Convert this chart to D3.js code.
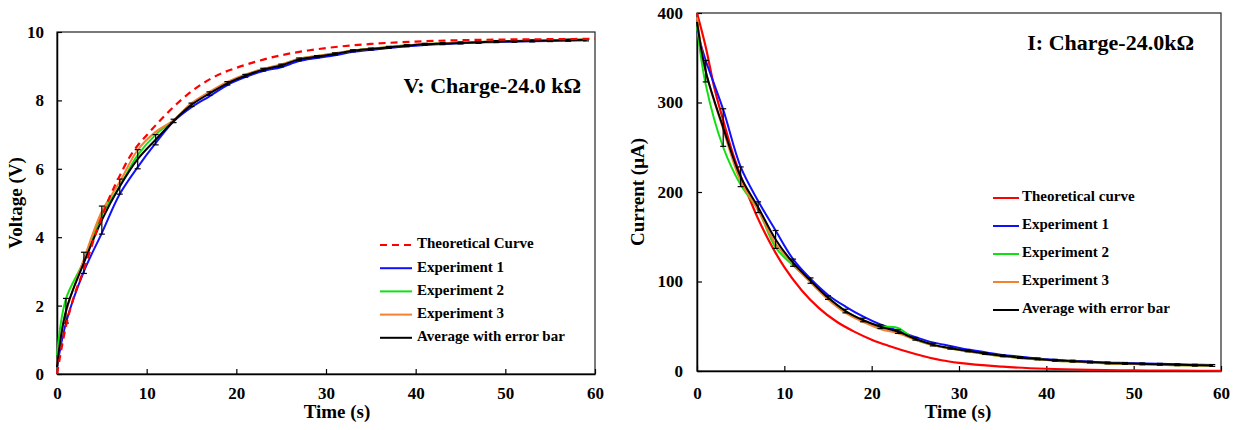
<!DOCTYPE html>
<html>
<head>
<meta charset="UTF-8">
<title>RC charge - 24.0 kOhm</title>
<script src="https://cdn.jsdelivr.net/npm/d3@7/dist/d3.min.js"></script>
<style>
  body { margin: 0; background: #fff; }
</style>
</head>
<body>
<svg id="chart" width="1242" height="430"></svg>
<script>
// sample times of the measurements (s)
const tExp = [0,1,3,5,7,9,11,13,15,17,19,21,23,25,27,29,31,33,35,37,39,41,43,45,47,49,51,53,55,57,59];
// times for the theoretical curves (s)
const tTheo = [0,1,2,3,4,5,6,7,8,9,10,12,14,16,18,20,22,25,28,30,35,40,45,50,55,60];

// ---- voltage panel (V)
const vTheo = [0,1.4,2.35,3.05,3.85,4.6,5.25,5.8,6.3,6.68,6.98,7.55,8.05,8.45,8.75,8.95,9.12,9.32,9.46,9.53,9.65,9.72,9.76,9.78,9.79,9.8];
const vExp1 = [0.2,1.5,3.0,4.12,5.26,6.05,6.75,7.38,7.8,8.12,8.45,8.68,8.86,8.97,9.15,9.24,9.32,9.42,9.48,9.53,9.58,9.62,9.65,9.67,9.69,9.71,9.72,9.73,9.74,9.75,9.76];
const vExp2 = [0.55,2.2,3.3,4.65,5.5,6.4,7.0,7.42,7.9,8.22,8.52,8.74,8.92,9.04,9.22,9.3,9.37,9.46,9.51,9.56,9.61,9.65,9.67,9.69,9.71,9.73,9.74,9.75,9.76,9.77,9.78];
const vExp3 = [0.25,1.8,3.36,4.75,5.62,6.55,7.08,7.42,7.92,8.25,8.54,8.76,8.92,9.05,9.22,9.3,9.38,9.46,9.51,9.56,9.61,9.65,9.67,9.69,9.71,9.73,9.74,9.75,9.76,9.77,9.78];
const vAvg  = [0.2,1.85,3.25,4.5,5.48,6.28,6.85,7.4,7.87,8.2,8.5,8.72,8.9,9.02,9.2,9.28,9.36,9.45,9.5,9.55,9.6,9.64,9.66,9.68,9.7,9.72,9.73,9.74,9.75,9.76,9.77];
const vErr  = [0,0.36,0.31,0.41,0.22,0.28,0.15,0.05,0.05,0.05,0.05,0.04,0.04,0.04,0.04,0.03,0.03,0.03,0.03,0.03,0.03,0.03,0.03,0.03,0.03,0.03,0.03,0.03,0.03,0.03,0.03];

// ---- current panel (uA)
const iTheo = [400,362,316,280,246,218,193,170,150,132,116,90,70,55,44,35,28,19,12,9,4.8,2.5,1.3,0.7,0.4,0.2];
const iExp1 = [380,347,292,228,190,157,125,103,85,72,61,52,45,38,32,28,24,21,18,16,14,12.5,11.5,10.5,9.5,9,8.5,8,7.5,7,6.8];
const iExp2 = [385,320,250,208,180,138,118,100,82,67,56,50,48,35,29,25,22,19,16.5,14.5,13,11.5,10.5,9.5,8.5,8,7.5,7,6.5,6.2,6];
const iExp3 = [395,335,270,212,180,142,120,99,80,65,55,47,42,35,29,25,22,19,16.5,14.5,13,11.5,10.5,9.5,8.5,8,7.5,7,6.5,6.2,6];
const iAvg  = [390,335,272,217,183,147,121,101,82,67,57,49.5,44,36,29.5,25.5,22.5,19.5,17,15,13.5,12,11,10,9,8.5,8,7.5,7,6.5,6.2];
const iErr  = [0,12,21,11,6,10,4,3,2,2,2,2,2,1.5,1.5,1,1,1,1,1,1,1,1,1,1,1,1,1,1,1,1];

const xTicks = [0,10,20,30,40,50,60];
const vTicks = [0,2,4,6,8,10];
const iTicks = [0,100,200,300,400];

const colors = { theo: "#ff0000", e1: "#1010ff", e2: "#10e010", e3: "#f08232", avg: "#000000" };
const FONT = "'Liberation Serif', 'DejaVu Serif', 'Times New Roman', serif";

const svg = d3.select("#chart");

function label(sel, size) {
  return sel.attr("font-family", FONT).attr("font-weight", "bold")
    .attr("font-size", size).attr("fill", "#000")
    .style("font-family", FONT).style("font-weight", "bold").style("font-size", size + "px");
}

function panel(opt) {
  const x = d3.scaleLinear().domain([0, 60]).range(opt.xr);
  const y = d3.scaleLinear().domain(opt.yd).range(opt.yr);
  const g = svg.append("g");

  // frame (top / right)
  g.append("rect")
    .attr("x", opt.xr[0]).attr("y", opt.yr[1])
    .attr("width", opt.xr[1] - opt.xr[0]).attr("height", opt.yr[0] - opt.yr[1])
    .attr("fill", "none").attr("stroke", "#222").attr("stroke-width", 1.2);

  const xa = g.append("g").attr("transform", `translate(0,${opt.yr[0]})`)
    .call(d3.axisBottom(x).tickValues(xTicks).tickSizeInner(-5).tickSizeOuter(0).tickPadding(opt.xpad));
  const ya = g.append("g").attr("transform", `translate(${opt.xr[0]},0)`)
    .call(d3.axisLeft(y).tickValues(opt.yticks).tickSizeInner(-5).tickSizeOuter(0).tickPadding(opt.ypad));
  [xa, ya].forEach(a => {
    a.attr("font-family", FONT);
    a.select(".domain").attr("stroke", "#000").attr("stroke-width", 1.5);
    a.selectAll(".tick line").attr("stroke", "#000").attr("stroke-width", 1.2);
    label(a.selectAll("text"), 17);
  });

  const line = (ts, vs, curve) => d3.line()
    .x((d, i) => x(ts[i])).y(d => y(d)).curve(curve)(vs);

  const series = [
    { v: opt.e1, c: colors.e1 },
    { v: opt.e2, c: colors.e2 },
    { v: opt.e3, c: colors.e3 },
    { v: opt.avg, c: colors.avg }
  ];
  if (!opt.theoOnTop) drawTheo();
  series.forEach(s => {
    g.append("path").attr("d", line(tExp, s.v, d3.curveCatmullRom))
      .attr("fill", "none").attr("stroke", s.c).attr("stroke-width", 2);
  });

  // error bars on the average
  const eb = g.append("g").attr("stroke", "#000").attr("stroke-width", 1.2);
  tExp.forEach((t, i) => {
    if (!opt.err[i]) return;
    const cx = x(t), y1 = y(opt.avg[i] - opt.err[i]), y2 = y(opt.avg[i] + opt.err[i]);
    eb.append("line").attr("x1", cx).attr("x2", cx).attr("y1", y1).attr("y2", y2);
    eb.append("line").attr("x1", cx - 3).attr("x2", cx + 3).attr("y1", y1).attr("y2", y1);
    eb.append("line").attr("x1", cx - 3).attr("x2", cx + 3).attr("y1", y2).attr("y2", y2);
  });
  if (opt.theoOnTop) drawTheo();

  function drawTheo() {
    g.append("path").attr("d", line(tTheo, opt.theo, d3.curveMonotoneX))
      .attr("fill", "none").attr("stroke", colors.theo).attr("stroke-width", 2.2)
      .attr("stroke-dasharray", opt.dash || null);
  }

  // axis titles
  label(g.append("text"), 19).attr("x", opt.xtitle[0]).attr("y", opt.xtitle[1])
    .attr("text-anchor", "middle").text("Time (s)");
  label(g.append("text"), 19)
    .attr("transform", `translate(${opt.ytitle[0]},${opt.ytitle[1]}) rotate(-90)`)
    .attr("text-anchor", "middle").attr("dominant-baseline", "middle")
    .text(opt.ylabel);

  // panel title
  label(g.append("text"), 22).attr("x", opt.title[0]).attr("y", opt.title[1])
    .attr("text-anchor", "end").text(opt.titleText);

  // legend
  const items = [
    { t: opt.theoLabel, c: colors.theo, dash: opt.dash },
    { t: "Experiment 1", c: colors.e1 },
    { t: "Experiment 2", c: colors.e2 },
    { t: "Experiment 3", c: colors.e3 },
    { t: "Average with error bar", c: colors.avg }
  ];
  const lg = g.append("g");
  items.forEach((it, i) => {
    const yy = opt.leg.y + i * opt.leg.dy;
    lg.append("line").attr("x1", opt.leg.x1).attr("x2", opt.leg.x2).attr("y1", yy).attr("y2", yy)
      .attr("stroke", it.c).attr("stroke-width", 2).attr("stroke-dasharray", it.dash || null);
    label(lg.append("text"), 15).attr("x", opt.leg.tx).attr("y", yy)
      .attr("dominant-baseline", "middle").text(it.t);
  });
}

panel({
  xr: [57, 595], yr: [374, 32], yd: [0, 10], yticks: vTicks, xpad: 13, ypad: 13,
  theo: vTheo, e1: vExp1, e2: vExp2, e3: vExp3, avg: vAvg, err: vErr,
  dash: "7,5", theoOnTop: true, theoLabel: "Theoretical Curve",
  xtitle: [337, 418], ytitle: [18, 203], ylabel: "Voltage (V)",
  title: [581, 93], titleText: "V: Charge-24.0 k\u03A9",
  leg: { x1: 380, x2: 412, tx: 417, y: 245, dy: 23.2 }
});

panel({
  xr: [697, 1221], yr: [371, 13], yd: [0, 400], yticks: iTicks, xpad: 16, ypad: 14,
  theo: iTheo, e1: iExp1, e2: iExp2, e3: iExp3, avg: iAvg, err: iErr,
  dash: null, theoOnTop: false, theoLabel: "Theoretical curve",
  xtitle: [958, 418], ytitle: [640, 192], ylabel: "Current (\u03BCA)",
  title: [1194, 50], titleText: "I: Charge-24.0k\u03A9",
  leg: { x1: 993, x2: 1019, tx: 1022, y: 198, dy: 28 }
});
</script>
</body>
</html>
